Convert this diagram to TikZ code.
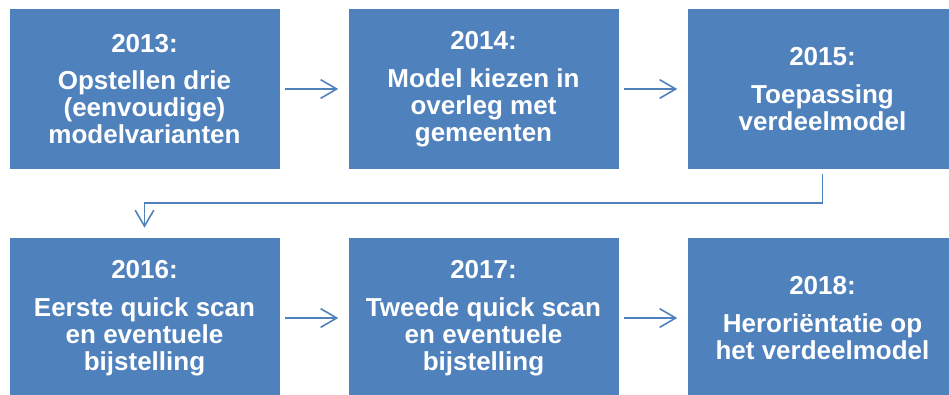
\documentclass[tikz,border=0pt]{standalone}
\usepackage{fontspec}
\setmainfont{Liberation Sans}
\usetikzlibrary{arrows.meta, positioning}
\definecolor{boxblue}{HTML}{4F81BD}

\begin{document}
\begin{tikzpicture}[node distance=171.75pt and 254.25pt, on grid, >={Straight Barb[length=12pt,width=14pt]},
      phase/.style={fill=boxblue, text=white, minimum width=202.5pt, minimum height=120pt, inner sep=0pt,
        align=center, font=\bfseries\fontsize{19.5}{20.25}\selectfont},
      flow/.style={->, draw=boxblue, line width=1.2pt, shorten <=3.75pt, shorten >=7.5pt}]

      \path[use as bounding box, clip] (0,0) rectangle (711.75pt,-295.5pt);

      \node[phase]  (y2013) at (108.375pt,-66.75pt) {2013:\\[8pt]Opstellen drie\\(eenvoudige)\\modelvarianten};
      \node[phase]  (y2014) [right=of y2013] {2014:\\[8pt]Model kiezen in\\overleg met\\gemeenten};
      \node[phase]  (y2015) [right=of y2014] {2015:\\[8pt]Toepassing\\verdeelmodel};
      \node[phase]  (y2016) [below=of y2013] {2016:\\[8pt]Eerste quick scan\\en eventuele\\bijstelling};
      \node[phase]  (y2017) [right=of y2016] {2017:\\[8pt]Tweede quick scan\\en eventuele\\bijstelling};
      \node[phase]  (y2018) [right=of y2017] {2018:\\[8pt]Heroriëntatie op\\het verdeelmodel};

      \draw[flow] (y2013) -- (y2014);
      \draw[flow] (y2014) -- (y2015);
      \draw[flow] (y2015.south) -- ++(0,-25.5pt) -| (y2016.north);
      \draw[flow] (y2016) -- (y2017);
      \draw[flow] (y2017) -- (y2018);
    \end{tikzpicture}
\end{document}
